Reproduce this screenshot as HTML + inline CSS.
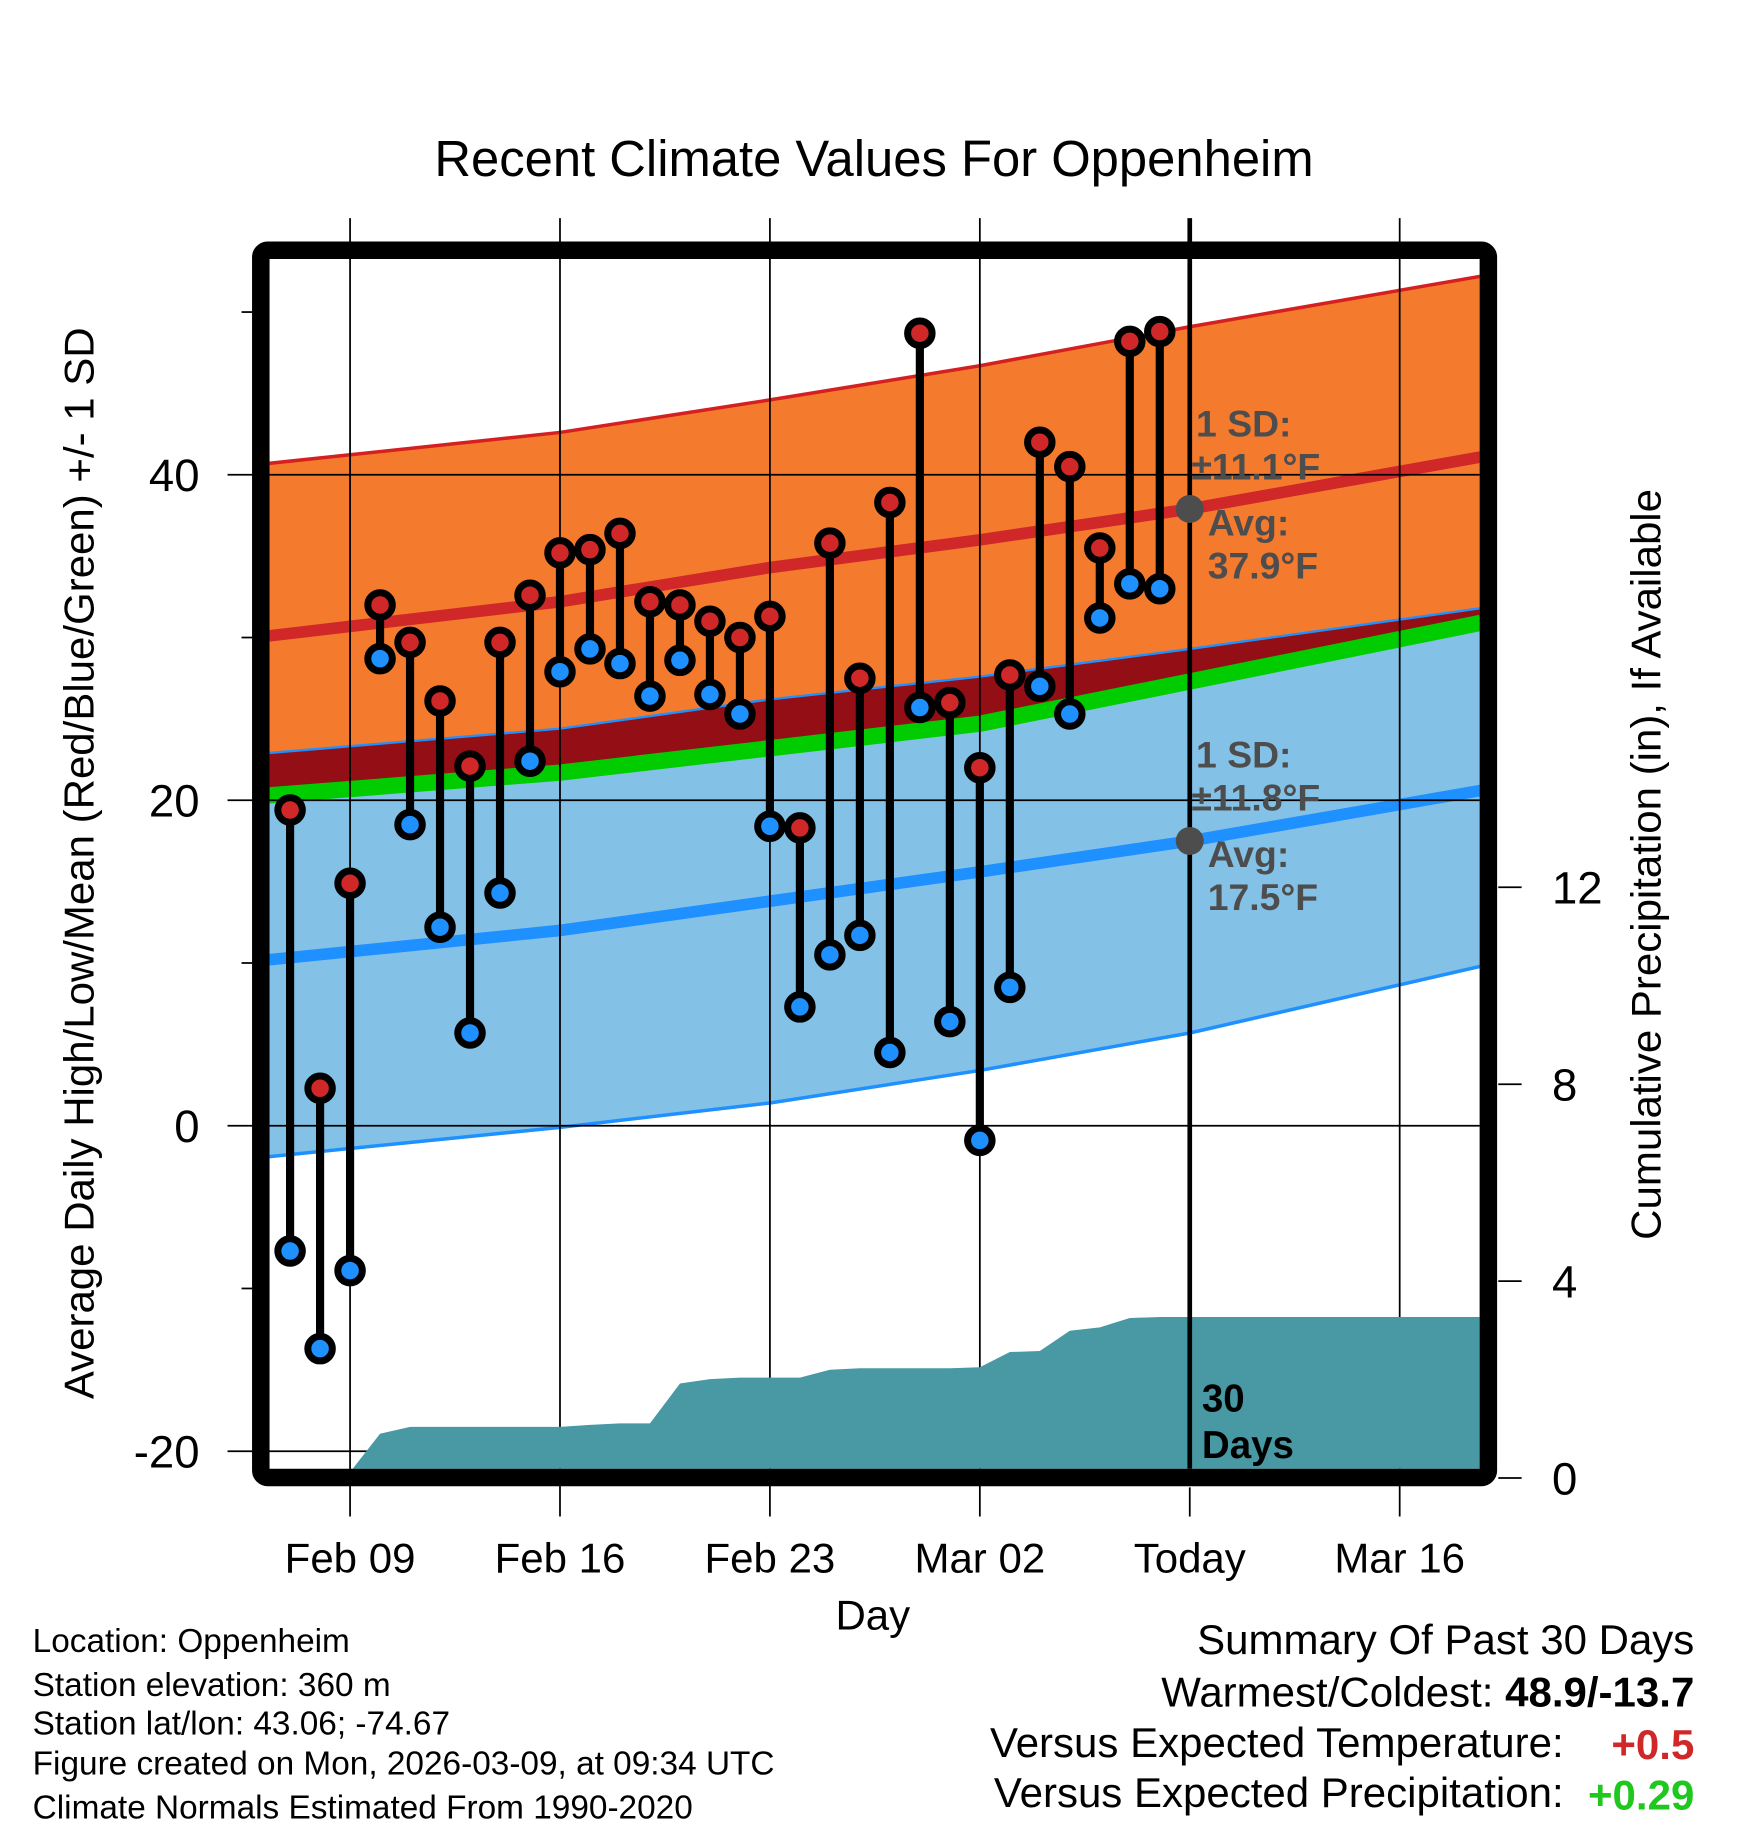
<!DOCTYPE html>
<html><head><meta charset="utf-8"><style>
html,body{margin:0;padding:0;background:#fff}
svg{display:block}
text{font-family:"Liberation Sans",sans-serif}
</style></head><body>
<svg id="chart" width="1748" height="1828" viewBox="0 0 1498 1567" preserveAspectRatio="none" xmlns="http://www.w3.org/2000/svg">
<defs><clipPath id="pc"><rect x="231" y="222" width="1037" height="1037"/></clipPath></defs>
<text x="749" y="151" text-anchor="middle" font-size="43.5">Recent Climate Values For Oppenheim</text>
<g id="bands" clip-path="url(#pc)"></g>
<g id="grid"></g>
<g id="precip" clip-path="url(#pc)"></g>
<g id="today"></g>
<g id="marks"></g>
<g id="ann">
<g fill="#4d4d4d" font-weight="bold" font-size="32">
<text x="1025" y="374">1 SD:</text>
<text x="1021" y="411">±11.1°F</text>
<text x="1035" y="459">Avg:</text>
<text x="1035" y="496">37.9°F</text>
<text x="1025" y="658">1 SD:</text>
<text x="1021" y="695">±11.8°F</text>
<text x="1035" y="743">Avg:</text>
<text x="1035" y="780">17.5°F</text>
</g>
<text x="1030" y="1210" font-weight="bold" font-size="33">30</text>
<text x="1030" y="1250" font-weight="bold" font-size="33">Days</text>
</g>
<rect x="223.5" y="214.5" width="1052" height="1052" rx="6" fill="none" stroke="#000" stroke-width="15"/>
<g id="axes"></g>
<text transform="translate(80,740) rotate(-90)" text-anchor="middle" font-size="36">Average Daily High/Low/Mean (Red/Blue/Green) +/- 1 SD</text>
<text transform="translate(1423,741) rotate(-90)" text-anchor="middle" font-size="36">Cumulative Precipitation (in), If Available</text>
<text x="748" y="1397" text-anchor="middle" font-size="36">Day</text>
<g font-size="28.6">
<text x="28" y="1416">Location: Oppenheim</text>
<text x="28" y="1454">Station elevation: 360 m</text>
<text x="28" y="1487">Station lat/lon: 43.06; -74.67</text>
<text x="28" y="1521">Figure created on Mon, 2026-03-09, at 09:34 UTC</text>
<text x="28" y="1559">Climate Normals Estimated From 1990-2020</text>
</g>
<g font-size="36" text-anchor="end">
<text x="1452" y="1418">Summary Of Past 30 Days</text>
<text x="1452" y="1463">Warmest/Coldest: <tspan font-weight="bold">48.9/-13.7</tspan></text>
<text x="1340" y="1506">Versus Expected Temperature:</text>
<text x="1452" y="1508" font-weight="bold" fill="#d02828">+0.5</text>
<text x="1340" y="1549">Versus Expected Precipitation:</text>
<text x="1452" y="1551" font-weight="bold" fill="#1ec81e">+0.29</text>
</g>
</svg>
<script>
// Daily observations (day offset from Feb 09)
const obsDays = [-2,-1,0,1,2,3,4,5,6,7,8,9,10,11,12,13,14,15,16,17,18,19,20,21,22,23,24,25,26,27];
const highs = [19.4,2.3,14.9,32.0,29.7,26.1,22.1,29.7,32.6,35.2,35.4,36.4,32.2,32.0,31.0,30.0,31.3,18.3,35.8,27.5,38.3,48.7,26.0,22.0,27.7,42.0,40.5,35.5,48.2,48.8];
const lows = [-7.7,-13.7,-8.9,28.7,18.5,12.2,5.7,14.3,22.4,27.9,29.3,28.4,26.4,28.6,26.5,25.3,18.4,7.3,10.5,11.7,4.5,25.7,6.4,-0.9,8.5,27.0,25.3,31.2,33.3,33.0];
const precip = [0,0,0.12,0.9,1.04,1.04,1.04,1.04,1.04,1.04,1.08,1.11,1.11,1.92,2.01,2.04,2.04,2.04,2.2,2.23,2.23,2.23,2.23,2.25,2.56,2.58,2.99,3.06,3.25,3.27];
// Climate normals at key days
const normDays = [-2.7,7,14,21,28,37.7];
const highUpper = [40.7,42.6,44.6,46.7,49.1,52.2];
const highAvg = [30.1,32.2,34.3,36.0,37.9,41.1];
const highLower = [22.9,24.4,26.2,27.6,29.3,31.8];
const meanAvg = [20.3,21.7,23.2,24.7,27.3,30.9];
const lowAvg = [10.2,12.0,13.8,15.6,17.5,20.6];
const lowLower = [-1.9,-0.1,1.4,3.4,5.7,9.8];
const xTickDays = [0,7,14,21,28,35];
const xTickLabels = ["Feb 09","Feb 16","Feb 23","Mar 02","Today","Mar 16"];
const yTicks = [40,20,0,-20];
const yMinor = [50,30,10,-10];
const y2Ticks = [0,4,8,12];

const NS="http://www.w3.org/2000/svg";
const X = d => 300 + 25.7*d;
const Y = v => 965 - 13.95*v;
const Y2 = p => 1267 - 42.2*p;
function mk(parent, tag, attrs){const e=document.createElementNS(NS,tag);for(const k in attrs)e.setAttribute(k,attrs[k]);document.getElementById(parent).appendChild(e);return e;}
const pts = arr => normDays.map((d,i)=>X(d).toFixed(1)+","+Y(arr[i]).toFixed(1));
const band = (a,b) => pts(a).concat(pts(b).reverse()).join(" ");

let e;
e=mk("bands","polygon",{points:band(highLower,lowLower),fill:"#84c1e6"});


e=mk("bands","polygon",{points:band(highUpper,highLower),fill:"#f47a2e"});


e=mk("bands","polygon",{points:band(highLower,meanAvg),fill:"#940e16"});


e=mk("bands","polyline",{points:pts(meanAvg).join(" "),fill:"none",stroke:"#00cc00","stroke-width":14});


e=mk("bands","polyline",{points:pts(highLower).join(" "),fill:"none",stroke:"#1e90ff","stroke-width":2});


e=mk("bands","polyline",{points:pts(highUpper).join(" "),fill:"none",stroke:"#d42020","stroke-width":3});


e=mk("bands","polyline",{points:pts(lowLower).join(" "),fill:"none",stroke:"#1e90ff","stroke-width":3});


e=mk("bands","polyline",{points:pts(highAvg).join(" "),fill:"none",stroke:"#d02828","stroke-width":10});


e=mk("bands","polyline",{points:pts(lowAvg).join(" "),fill:"none",stroke:"#1e90ff","stroke-width":10});



// precipitation area
let pp = obsDays.map((d,i)=>X(d).toFixed(1)+","+Y2(precip[i]).toFixed(1));
pp.push(X(38)+","+Y2(precip[precip.length-1]).toFixed(1));
pp.push(X(38)+",1270"); pp.push(X(obsDays[0])+",1270");
e=mk("precip","polygon",{points:pp.join(" "),fill:"#4899a3"});



// grid
yTicks.forEach(v=>{
  e=mk("grid","line",{x1:195,x2:1268,y1:Y(v),y2:Y(v),stroke:"#000","stroke-width":1.5});
  
  
  e=mk("axes","text",{x:171,y:Y(v)+14,"text-anchor":"end","font-size":39});
  e.textContent=v;
  
  
});
yMinor.forEach(v=>{
  e=mk("axes","line",{x1:207,x2:216,y1:Y(v),y2:Y(v),stroke:"#000","stroke-width":1.5});
  
  
});
xTickDays.forEach((d,i)=>{
  const today = xTickLabels[i]==="Today";
  e=mk(today?"today":"grid","line",{x1:X(d),x2:X(d),y1:187,y2:today?1259:1300,stroke:"#000","stroke-width":today?4:1.5});
  
  
  if(today){
    e=mk("axes","line",{x1:X(d),x2:X(d),y1:1275,y2:1300,stroke:"#000","stroke-width":1.5});
    
    
  }
  e=mk("axes","text",{x:X(d),y:1348,"text-anchor":"middle","font-size":36});
  e.textContent=xTickLabels[i];
  
  
});
y2Ticks.forEach(p=>{
  e=mk("axes","line",{x1:1284,x2:1304,y1:Y2(p),y2:Y2(p),stroke:"#000","stroke-width":1.5});
  
  
  e=mk("axes","text",{x:1330,y:Y2(p)+14,"font-size":39});
  e.textContent=p;
  
  
});

// today avg markers
e=mk("ann","circle",{cx:X(28),cy:Y(highAvg[4]),r:12,fill:"#4d4d4d"});


e=mk("ann","circle",{cx:X(28),cy:Y(lowAvg[4]),r:12,fill:"#4d4d4d"});



// daily marks
obsDays.forEach((d,i)=>{
  e=mk("marks","line",{x1:X(d),x2:X(d),y1:Y(highs[i]),y2:Y(lows[i]),stroke:"#000","stroke-width":7});
  
  
  e=mk("marks","circle",{cx:X(d),cy:Y(highs[i]),r:10.5,fill:"#d02828",stroke:"#000","stroke-width":6});
  
  
  e=mk("marks","circle",{cx:X(d),cy:Y(lows[i]),r:10.5,fill:"#1e90ff",stroke:"#000","stroke-width":6});
  
  
});
</script>
</body></html>
